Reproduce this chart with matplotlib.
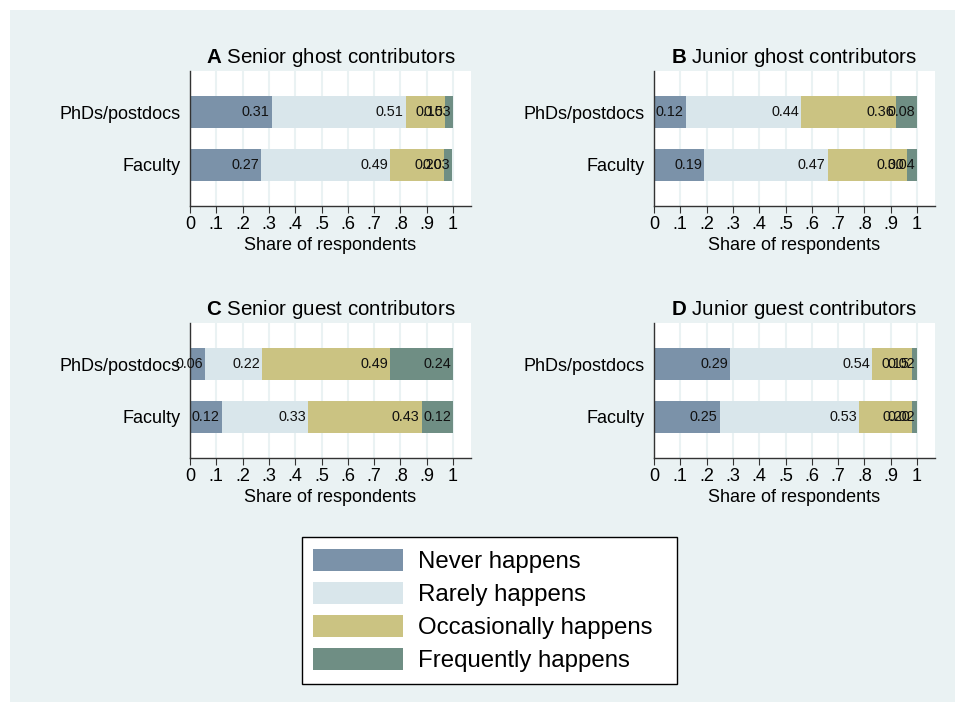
import matplotlib.pyplot as plt
from matplotlib.patches import Patch, Rectangle
import numpy as np

plt.rcParams['font.family'] = ['Liberation Sans', 'DejaVu Sans']
plt.rcParams['mathtext.fontset'] = 'custom'
plt.rcParams['mathtext.rm'] = 'Liberation Sans'
plt.rcParams['mathtext.bf'] = 'Liberation Sans:bold'

groups = ["PhDs/postdocs", "Faculty"]
categories = ["Never happens", "Rarely happens", "Occasionally happens", "Frequently happens"]
colors = ["#7b92a9", "#d9e6eb", "#cbc382", "#6f8e84"]
bg = "#eaf2f3"

letters = ["A", "B", "C", "D"]
titles = ["Senior ghost contributors", "Junior ghost contributors",
          "Senior guest contributors", "Junior guest contributors"]

# shares: never, rarely, occasionally, frequently  (rows: PhDs/postdocs, Faculty)
senior_ghost = [[0.31, 0.51, 0.15, 0.03], [0.27, 0.49, 0.205, 0.03]]
junior_ghost = [[0.12, 0.44, 0.36, 0.08], [0.19, 0.47, 0.30, 0.04]]
senior_guest = [[0.057, 0.218, 0.487, 0.238], [0.12, 0.33, 0.43, 0.12]]
junior_guest = [[0.29, 0.54, 0.15, 0.02], [0.25, 0.53, 0.20, 0.02]]
panels = [senior_ghost, junior_ghost, senior_guest, junior_guest]

xticks = np.arange(0, 1.01, 0.1)
xticklabels = ["0", ".1", ".2", ".3", ".4", ".5", ".6", ".7", ".8", ".9", "1"]

W, H = 955, 702
fig = plt.figure(figsize=(W / 100, H / 100), dpi=100)
fig.patch.set_facecolor("white")
fig.patches.append(Rectangle((10 / W, 0), 1, 1 - 10 / H, transform=fig.transFigure,
                             facecolor=bg, edgecolor="none", zorder=-10))

lefts = [190, 654, 190, 654]
bottoms = [206, 206, 458, 458]
for i, data in enumerate(panels):
    ax = fig.add_axes([lefts[i] / W, 1 - bottoms[i] / H, 281 / W, 135 / H])
    ax.set_facecolor("white")
    y = np.arange(len(groups))
    left = np.zeros(len(groups))
    vals = np.array(data)
    for j, cat in enumerate(categories):
        ax.barh(y, vals[:, j], left=left, height=0.62, color=colors[j], zorder=2)
        for k in range(len(groups)):
            ax.annotate(f"{vals[k, j]:.2f}", (left[k] + vals[k, j], y[k]),
                        xytext=(-1.5, 0), textcoords="offset points",
                        ha="right", va="center", fontsize=10.4, color="#111111", zorder=3)
        left += vals[:, j]
    ax.set_xlim(0, 1.068)
    ax.set_ylim(1.774, -0.774)
    ax.set_yticks(y)
    ax.set_yticklabels(groups, fontsize=13)
    ax.tick_params(axis="y", length=0, pad=7)
    ax.set_xticks(xticks)
    ax.set_xticklabels(xticklabels, fontsize=13)
    ax.tick_params(axis="x", length=5, width=0.8, color="#333333", pad=2)
    for xv in xticks:
        ax.axvline(xv, color=bg, linewidth=1.5, zorder=1)
    for s in ["top", "right"]:
        ax.spines[s].set_visible(False)
    for s in ["left", "bottom"]:
        ax.spines[s].set_color("#333333")
        ax.spines[s].set_linewidth(1.0)
    ax.set_xlabel("Share of respondents", fontsize=13, labelpad=3)
    ax.set_title(r"$\bf{" + letters[i] + "}$ " + titles[i], fontsize=14.8, pad=6)

# legend box drawn by hand so its padding matches
fig.patches.append(Rectangle((302 / W, 1 - 684 / H), 375 / W, 147 / H, transform=fig.transFigure,
                             facecolor="white", edgecolor="black", linewidth=1.0, zorder=5))
handles = [Patch(facecolor=c, edgecolor="none") for c in colors]
leg = fig.legend(handles, categories, loc="upper left", bbox_to_anchor=(313 / W, 1 - 549 / H),
                 fontsize=17.3, handlelength=3.75, handleheight=1.04, labelspacing=0.36,
                 handletextpad=0.62, borderpad=0, borderaxespad=0, frameon=False)
leg.set_zorder(6)

fig.savefig("out.png", dpi=100, facecolor=fig.get_facecolor())
